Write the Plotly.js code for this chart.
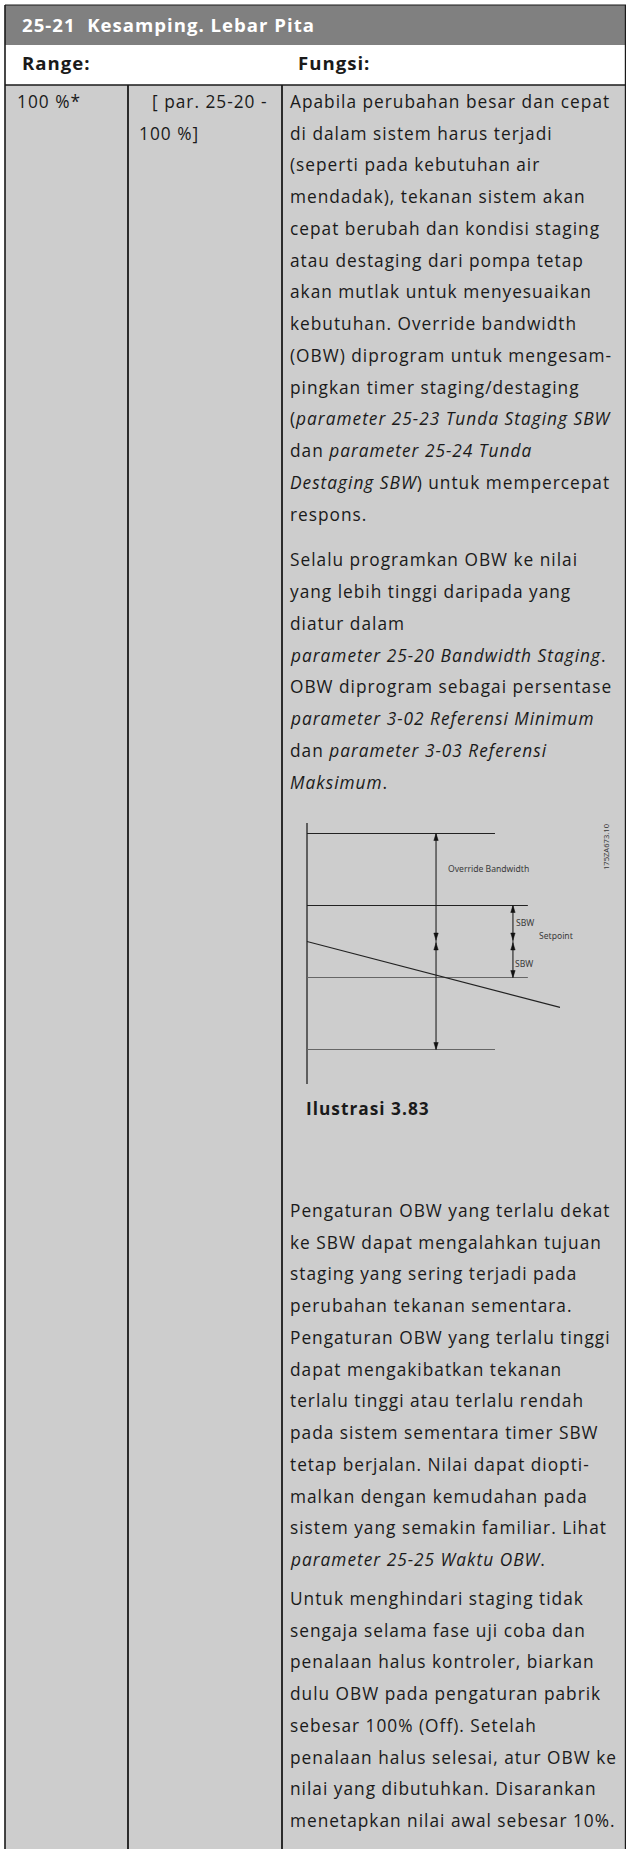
<!DOCTYPE html>
<html><head><meta charset="utf-8">
<script src="https://cdn.plot.ly/plotly-3.0.1.min.js"></script>
<style>
html,body{margin:0;padding:0;background:#fff;}
#chart{width:626px;height:1849px;}
text[style*="Open Sans"]{letter-spacing:1px;}
</style></head><body><div id="chart"></div>
<script>
// ---------- content ----------
const headerTitle = '25-21  Kesamping. Lebar Pita';
const columnHeads = ['Range:', 'Fungsi:'];
const defaultValue = '100 %*';
const rangeLines = ['[ par. 25-20 -', '100 %]'];
const para1 = [
  'Apabila perubahan besar dan cepat',
  'di dalam sistem harus terjadi',
  '(seperti pada kebutuhan air',
  'mendadak), tekanan sistem akan',
  'cepat berubah dan kondisi staging',
  'atau destaging dari pompa tetap',
  'akan mutlak untuk menyesuaikan',
  'kebutuhan. Override bandwidth',
  '(OBW) diprogram untuk mengesam-',
  'pingkan timer staging/destaging',
  '(<i>parameter 25-23 Tunda Staging SBW</i>',
  'dan <i>parameter 25-24 Tunda</i>',
  '<i>Destaging SBW</i>) untuk mempercepat',
  'respons.'
];
const para2 = [
  'Selalu programkan OBW ke nilai',
  'yang lebih tinggi daripada yang',
  'diatur dalam',
  '<i>parameter 25-20 Bandwidth Staging</i>.',
  'OBW diprogram sebagai persentase',
  '<i>parameter 3-02 Referensi Minimum</i>',
  'dan <i>parameter 3-03 Referensi</i>',
  '<i>Maksimum</i>.'
];
const figureCaption = 'Ilustrasi 3.83';
const figureCode = '175ZA673.10';
const para3 = [
  'Pengaturan OBW yang terlalu dekat',
  'ke SBW dapat mengalahkan tujuan',
  'staging yang sering terjadi pada',
  'perubahan tekanan sementara.',
  'Pengaturan OBW yang terlalu tinggi',
  'dapat mengakibatkan tekanan',
  'terlalu tinggi atau terlalu rendah',
  'pada sistem sementara timer SBW',
  'tetap berjalan. Nilai dapat diopti-',
  'malkan dengan kemudahan pada',
  'sistem yang semakin familiar. Lihat',
  '<i>parameter 25-25 Waktu OBW</i>.'
];
const para4 = [
  'Untuk menghindari staging tidak',
  'sengaja selama fase uji coba dan',
  'penalaan halus kontroler, biarkan',
  'dulu OBW pada pengaturan pabrik',
  'sebesar 100% (Off). Setelah',
  'penalaan halus selesai, atur OBW ke',
  'nilai yang dibutuhkan. Disarankan',
  'menetapkan nilai awal sebesar 10%.'
];

// ---------- diagram values (pressure in SBW units around setpoint, time in arbitrary units) ----------
const levelValues = [3, 1, -1, -3];          // setpoint+OBW, setpoint+SBW, setpoint-SBW, setpoint-OBW
const levelEnds   = [7.43, 8.73, 8.73, 7.43];
const levelColors = ['#222', '#222', '#666', '#666'];
const pressureT = [0, 10];
const pressureV = [0, -1.83];
const axisSpan = [3.29, -3.96];
const obwArrowT = 5.1, obwValue = 3;
const sbwArrowT = 8.14, sbwValue = 1;
const diagramLabels = ['Override Bandwidth', 'SBW', 'SBW', 'Setpoint'];
const labelT = [5.57, 8.26, 8.22, 9.17];
const labelV = [2.01, 0.51, -0.63, 0.15];

// ---------- layout helpers ----------
const W = 626, H = 1849;
const FS = 17.3, LINE = 31.75;
const BODY = 'Open Sans, sans-serif';
const SMALL = 'Noto Sans, sans-serif';
const KX = 25.3, KY = 36, T0PX = 307, V0PX = 941.5;

const annotations = [];
function txt(x, baseline, text, fs, color, family) {
  family = family || BODY;
  annotations.push({x: x, y: baseline - 0.388 * fs, xref: 'x', yref: 'y', text: text,
    showarrow: false, xanchor: 'left', yanchor: 'middle', borderpad: 0, borderwidth: 0,
    font: {family: family, size: fs, color: color || '#1a1a1a'}});
}
function para(lines, x, b0) { lines.forEach((l, i) => txt(x, b0 + i * LINE, l, FS)); }

txt(22, 32, '<b>' + headerTitle + '</b>', 18.6, '#ffffff');
txt(22, 70, '<b>' + columnHeads[0] + '</b>', 18.6);
txt(298, 70, '<b>' + columnHeads[1] + '</b>', 18.6);
txt(17, 108, defaultValue, FS);
txt(152, 108, rangeLines[0], FS);
txt(139, 108 + LINE, rangeLines[1], FS);
para(para1, 290, 108);
para(para2, 290, 566.5);
txt(306, 1115, '<b>' + figureCaption + '</b>', FS);
para(para3, 290, 1217);
para(para4, 290, 1605);

// diagram labels
diagramLabels.forEach((s, i) => annotations.push({x: labelT[i], y: labelV[i], xref: 'x2', yref: 'y2', text: s,
  showarrow: false, xanchor: 'left', yanchor: 'middle', borderpad: 0, borderwidth: 0,
  font: {family: SMALL, size: 8.6, color: '#3a3a3a'}}));
annotations.push({x: 606, y: 847, xref: 'x', yref: 'y', text: figureCode, textangle: -90, showarrow: false,
  borderpad: 0, borderwidth: 0, font: {family: SMALL, size: 7.6, color: '#3a3a3a'}});

// table shapes
const shapes = [
  {type: 'rect', xref: 'x', yref: 'y', x0: 5, x1: W, y0: 5, y1: 45, fillcolor: '#808080', line: {width: 0}, layer: 'below'},
  {type: 'rect', xref: 'x', yref: 'y', x0: 5, x1: W, y0: 45, y1: 85, fillcolor: '#ffffff', line: {width: 0}, layer: 'below'},
  {type: 'rect', xref: 'x', yref: 'y', x0: 5, x1: W, y0: 85, y1: H, fillcolor: '#cdcdcd', line: {width: 0}, layer: 'below'}
];
function ln(x0, y0, x1, y1, w, c) {
  shapes.push({type: 'line', xref: 'x', yref: 'y', x0: x0, y0: y0, x1: x1, y1: y1, line: {width: w, color: c || '#1a1a1a'}});
}
ln(5, 5, W, 5, 1.2);
ln(5, 5, 5, H, 1.6);
ln(625.4, 5, 625.4, H, 1.2);
ln(5, 85, W, 85, 1.6);
ln(128, 85, 128, H, 1.8);
ln(282, 85, 282, H, 1.8);

// diagram traces
const traces = [];
function seg(t, v, color, w) {
  traces.push({type: 'scatter', mode: 'lines', x: t, y: v, xaxis: 'x2', yaxis: 'y2',
    line: {color: color, width: w || 1.1}, hoverinfo: 'skip', showlegend: false});
}
seg([0, 0], axisSpan, '#222', 1.3);
levelValues.forEach((v, i) => seg([0, levelEnds[i]], [v, v], levelColors[i], 1.2));
seg(pressureT, pressureV, '#222', 1.1);
// double arrows
const HL = 7 / KY, HW = 2.2 / KX;
function head(t, tipV, dir) {
  traces.push({type: 'scatter', mode: 'lines', x: [t, t - HW, t + HW, t], y: [tipV, tipV - dir * HL, tipV - dir * HL, tipV],
    xaxis: 'x2', yaxis: 'y2', fill: 'toself', fillcolor: '#111', line: {color: '#111', width: 0.5}, hoverinfo: 'skip', showlegend: false});
}
function dblArrow(t, amount) {
  seg([t, t], [0, amount], '#222', 1.1);
  seg([t, t], [0, -amount], '#222', 1.1);
  head(t, amount, 1); head(t, 0.04, -1);
  head(t, -amount, -1); head(t, -0.04, 1);
}
dblArrow(obwArrowT, obwValue);
dblArrow(sbwArrowT, sbwValue);

const layout = {
  width: W, height: H, margin: {l: 0, r: 0, t: 0, b: 0, pad: 0},
  paper_bgcolor: '#ffffff', plot_bgcolor: 'rgba(0,0,0,0)', showlegend: false,
  xaxis: {range: [0, W], visible: false, fixedrange: true},
  yaxis: {range: [H, 0], visible: false, fixedrange: true},
  xaxis2: {overlaying: 'x', range: [-T0PX / KX, (W - T0PX) / KX], visible: false, fixedrange: true},
  yaxis2: {overlaying: 'y', range: [(V0PX - H) / KY, V0PX / KY], visible: false, fixedrange: true},
  shapes: shapes, annotations: annotations
};
Plotly.newPlot('chart', traces, layout, {staticPlot: true, displayModeBar: false});
</script></body></html>
